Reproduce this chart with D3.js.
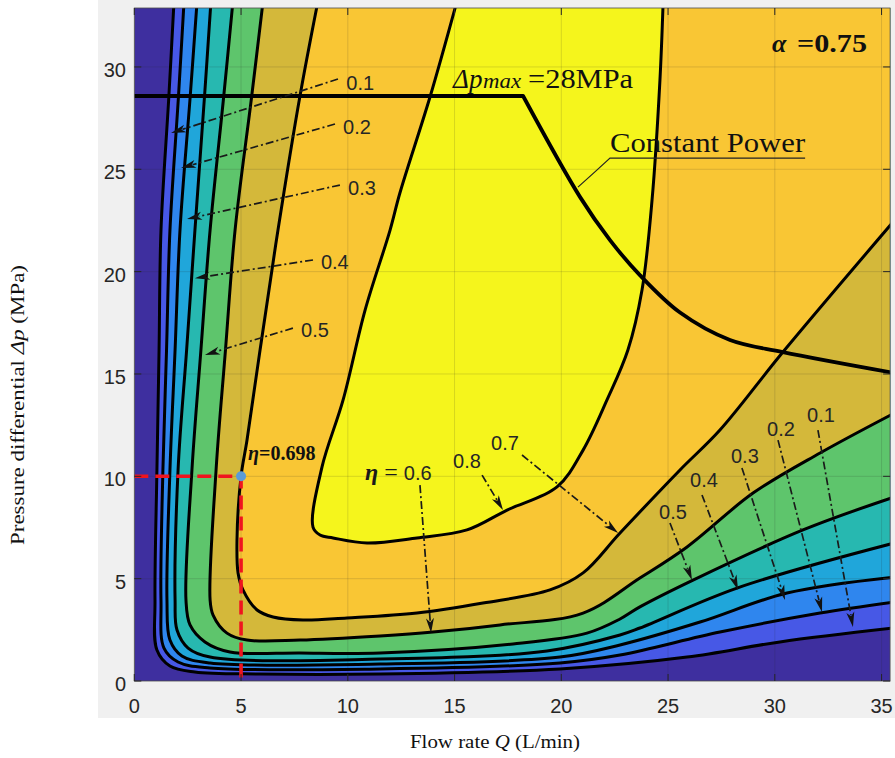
<!DOCTYPE html>
<html><head><meta charset="utf-8">
<script src="https://cdn.jsdelivr.net/npm/d3@7"></script>
<style>body{margin:0;background:#fff}svg{display:block}</style>
</head><body><svg id="c" width="895" height="758"></svg>
<script>
// ---------------- data ----------------
const xTicks = [0, 5, 10, 15, 20, 25, 30, 35];
const yTicks = [0, 5, 10, 15, 20, 25, 30];
const levels = [0.1, 0.2, 0.3, 0.4, 0.5, 0.6, 0.7, 0.8];
const levelColors = ["#3e2f9f", "#4758e6", "#2f86ee", "#20a6da", "#27b8b0", "#5ec56c", "#d4b83a", "#f9c634", "#f5f51c"];

// contour lines: [Q (L/min), Δp (MPa)]
const contour01 = [[1.86,33.2],[1.62,28.58],[1.25,22.03],[1.16,16.17],[1.06,10.31],[0.97,3.96],[1.06,1.51],[1.67,0.73],[2.84,0.44],[5.89,0.34],[11.51,0.34],[19.94,0.59],[25.89,1.17],[30.24,1.91],[35.6,2.59]];
const contour02 = [[2.33,33.2],[2.07,28.58],[1.67,22.03],[1.51,16.17],[1.34,10.31],[1.25,3.96],[1.39,1.61],[2.05,0.93],[3.55,0.64],[11.51,0.59],[19.94,0.88],[22.75,1.27],[27.43,2.39],[32.12,3.32],[35.6,3.86]];
const contour03 = [[2.94,33.2],[2.62,28.58],[2.14,22.03],[1.91,16.17],[1.67,10.31],[1.53,3.96],[1.67,2.0],[2.23,1.22],[3.55,0.88],[11.51,0.83],[19.94,1.17],[22.75,1.76],[26.5,2.88],[30.57,4.3],[35.6,5.08]];
const contour04 = [[3.59,33.2],[3.29,28.58],[2.84,22.03],[2.45,16.17],[2.05,10.31],[1.91,3.96],[2.0,2.49],[2.52,1.61],[3.55,1.17],[11.51,1.07],[19.33,1.47],[22.75,2.25],[23.68,2.59],[28.23,4.54],[35.6,6.74]];
const contour05 = [[4.62,33.2],[4.19,28.58],[3.55,22.03],[3.12,16.17],[2.7,10.31],[2.42,3.96],[2.61,2.74],[3.31,1.91],[4.48,1.42],[7.76,1.37],[11.51,1.37],[17.74,1.81],[21.2,2.34],[22.75,3.03],[23.68,3.62],[26.17,4.93],[31.32,7.38],[35.6,8.99]];
const contour06 = [[6.03,33.2],[5.5,28.58],[4.72,22.03],[4.27,16.17],[3.83,10.31],[3.55,3.96],[3.69,3.22],[4.34,2.34],[5.28,2.0],[7.76,2.0],[11.51,2.2],[13.99,2.39],[17.13,2.74],[21.02,3.32],[23.68,5.03],[25.89,6.55],[28.98,9.18],[32.12,11.14],[35.6,13.09]];
const contour07 = [[8.6,33.2],[7.76,28.58],[6.73,22.03],[5.89,16.17],[5.28,11.77],[5.0,10.0],[4.81,6.89],[4.86,5.28],[5.09,4.45],[5.75,3.47],[6.5,3.13],[7.9,2.98],[9.96,3.08],[13.24,3.32],[16.33,3.81],[19.47,4.45],[21.02,5.28],[22.75,7.23],[25.56,10.31],[27.43,12.26],[30.38,16.07],[35.6,22.5]];
const contour08 = [[15.11,33.2],[13.85,28.53],[12.44,23.84],[11.98,22.03],[10.81,18.12],[9.78,13.73],[8.79,10.45],[8.37,7.52],[8.7,7.13],[9.31,6.99],[10.9,6.74],[13.24,6.99],[15.58,7.38],[17.46,8.35],[19.8,9.48],[21.02,11.28],[22.14,13.73],[23.12,16.17],[23.78,19.1],[24.25,23.5],[24.62,29.36],[24.77,33.2]];
const contours = [contour01, contour02, contour03, contour04, contour05, contour06, contour07, contour08];

// Δp_max segment then constant-power curve
const maxPressureLine = [[0,28.58],[18.21,28.58]];
const constantPower = [[18.21,28.58],[20.88,23.64],[22.28,21.54],[23.68,19.83],[25.56,18.0],[27.9,16.66],[30.38,16.07],[35.6,15.05]];
const operatingPoint = {Q: 5, dp: 10, eta: 0.698};

// label annotations: text anchor point and arrow (from -> tip), data units
const leftLabels = [
  {t:"0.1", q:9.93, p:28.87, from:[9.54,29.41], to:[1.72,26.77]},
  {t:"0.2", q:9.78, p:26.72, from:[9.40,27.21], to:[2.19,25.06]},
  {t:"0.3", q:10.01, p:23.74, from:[9.63,24.23], to:[2.47,22.57]},
  {t:"0.4", q:8.74, p:20.13, from:[8.37,20.57], to:[2.84,19.68]},
  {t:"0.5", q:7.81, p:16.81, from:[7.43,17.24], to:[3.31,15.93]}
];
const rightLabels = [
  {t:"0.5", q:25.23, p:7.91, from:[25.09,7.72], to:[26.12,4.93]},
  {t:"0.4", q:26.68, p:9.48, from:[26.59,9.09], to:[28.28,4.45]},
  {t:"0.3", q:28.60, p:10.65, from:[28.46,10.41], to:[30.48,3.96]},
  {t:"0.2", q:30.29, p:11.97, from:[30.15,11.77], to:[32.21,3.37]},
  {t:"0.1", q:32.16, p:12.65, from:[32.02,12.26], to:[33.66,2.64]}
];
const midLabels = [
  {t:"0.8", q:15.58, p:10.41, from:[16.29,10.06], to:[17.27,8.35]},
  {t:"0.7", q:17.36, p:11.28, from:[18.16,11.04], to:[22.66,7.23]}
];
const eta06 = {q:10.81, p:9.82, from:[13.38,9.57], to:[13.90,2.34]};

// ---------------- drawing ----------------
const svg = d3.select("#c");
const X = d3.scaleLinear().domain([0, 35.4]).range([134.3, 890.1]);
const Y = d3.scaleLinear().domain([0, 32.88]).range([681, 8]);
const [x0, x1] = X.range(), [y0, y1] = Y.range();

svg.append("rect").attr("x", 98).attr("y", 0).attr("width", 797).attr("height", 718).attr("fill", "#f0f0f0");

svg.append("defs").append("clipPath").attr("id", "plotclip")
  .append("rect").attr("x", x0).attr("y", y1).attr("width", x1 - x0).attr("height", y0 - y1);

const plot = svg.append("g").attr("clip-path", "url(#plotclip)");
const line = d3.line().x(d => X(d[0])).y(d => Y(d[1]));
const smooth = d3.line().x(d => X(d[0])).y(d => Y(d[1])).curve(d3.curveCatmullRom.alpha(0.5));
const pt = d => X(d[0]) + "," + Y(d[1]);

plot.append("rect").attr("x", x0).attr("y", y1).attr("width", x1 - x0).attr("height", y0 - y1).attr("fill", levelColors[0]);

contours.forEach((c, i) => {
  let extra;
  if (i < 7) {
    const last = c[c.length - 1];
    extra = [[40, last[1]], [40, 40], [c[0][0], 40]];
  } else {
    extra = [[c[c.length - 1][0], 40], [c[0][0], 40]];
  }
  plot.append("path").attr("d", smooth(c) + extra.map(p => "L" + pt(p)).join("") + "Z").attr("fill", levelColors[i + 1]);
});

// grid
plot.selectAll(".gx").data(xTicks).enter().append("line")
  .attr("x1", d => X(d)).attr("x2", d => X(d)).attr("y1", y0).attr("y2", y1)
  .attr("stroke", "#262626").attr("stroke-opacity", 0.15).attr("stroke-width", 1);
plot.selectAll(".gy").data(yTicks).enter().append("line")
  .attr("y1", d => Y(d)).attr("y2", d => Y(d)).attr("x1", x0).attr("x2", x1)
  .attr("stroke", "#262626").attr("stroke-opacity", 0.15).attr("stroke-width", 1);

// contour lines
contours.forEach(c => {
  plot.append("path").attr("d", smooth(c)).attr("fill", "none")
    .attr("stroke", "#000").attr("stroke-width", 3).attr("stroke-linejoin", "round");
});

// Δp max + constant power
plot.append("path").attr("d", line(maxPressureLine) + smooth(constantPower).replace(/^M/, "L")).attr("fill", "none")
  .attr("stroke", "#000").attr("stroke-width", 3.8).attr("stroke-linejoin", "round");

// red dashed guide
plot.append("path").attr("d", line([[0, operatingPoint.dp], [operatingPoint.Q, operatingPoint.dp], [operatingPoint.Q, 0]]))
  .attr("fill", "none").attr("stroke", "#f0141e").attr("stroke-width", 3.6).attr("stroke-dasharray", "14,7");
plot.append("circle").attr("cx", X(operatingPoint.Q)).attr("cy", Y(operatingPoint.dp)).attr("r", 5)
  .attr("fill", "#5a9bd8");

// arrows
function arrow(from, to) {
  const ax = X(from[0]), ay = Y(from[1]), bx = X(to[0]), by = Y(to[1]);
  const L = Math.hypot(bx - ax, by - ay), ux = (bx - ax) / L, uy = (by - ay) / L;
  const len = 15, hw = 4;
  const baseX = bx - ux * len, baseY = by - uy * len;
  svg.append("line").attr("x1", ax).attr("y1", ay).attr("x2", baseX + ux * 3).attr("y2", baseY + uy * 3)
    .attr("stroke", "#1a1a1a").attr("stroke-width", 1.7).attr("stroke-dasharray", "8,3,2,3");
  const pts = [[bx, by], [baseX - uy * hw, baseY + ux * hw], [baseX + ux * 4, baseY + uy * 4], [baseX + uy * hw, baseY - ux * hw]];
  svg.append("path").attr("d", "M" + pts.map(p => p.join(",")).join("L") + "Z").attr("fill", "#111");
}

const numFont = "'Liberation Sans', Arial, Helvetica, sans-serif";
const serif = "'Liberation Serif', 'Times New Roman', Times, serif";

leftLabels.forEach(d => {
  arrow(d.from, d.to);
  svg.append("text").attr("x", X(d.q)).attr("y", Y(d.p)).text(d.t)
    .attr("font-family", numFont).attr("font-size", 20).attr("fill", "#262626");
});
rightLabels.concat(midLabels).forEach(d => {
  arrow(d.from, d.to);
  svg.append("text").attr("x", X(d.q)).attr("y", Y(d.p)).attr("text-anchor", "middle").text(d.t)
    .attr("font-family", numFont).attr("font-size", 20).attr("fill", "#262626");
});
arrow(eta06.from, eta06.to);
{
  const t = svg.append("text").attr("x", X(eta06.q)).attr("y", Y(eta06.p)).attr("fill", "#1a1a1a");
  t.append("tspan").text("η").attr("font-family", serif).attr("font-style", "italic").attr("font-weight", "bold").attr("font-size", 24);
  t.append("tspan").text(" = ").attr("font-family", serif).attr("font-size", 24);
  t.append("tspan").text("0.6").attr("font-family", numFont).attr("font-size", 20).attr("fill", "#262626");
}

// η=0.698
{
  const t = svg.append("text").attr("x", X(5.33)).attr("y", Y(10.8)).attr("font-family", serif)
    .attr("font-weight", "bold").attr("font-size", 20).attr("fill", "#111");
  t.append("tspan").text("η").attr("font-style", "italic");
  t.append("tspan").text("=" + operatingPoint.eta);
}

// Δp max label
{
  const bx = X(14.93), by = Y(28.97);
  svg.append("text").attr("x", bx).attr("y", by).attr("font-family", serif).attr("font-style", "italic")
    .attr("font-size", 27).attr("fill", "#111").text("Δp");
  svg.append("text").attr("x", bx + 30).attr("y", by).attr("font-family", serif).attr("font-style", "italic")
    .attr("font-size", 21).attr("fill", "#111").attr("textLength", 38).attr("lengthAdjust", "spacingAndGlyphs").text("max");
  svg.append("text").attr("x", bx + 75).attr("y", by).attr("font-family", serif)
    .attr("font-size", 27).attr("fill", "#111").attr("textLength", 105).attr("lengthAdjust", "spacingAndGlyphs").text("=28MPa");
}
// Constant Power label
svg.append("text").attr("x", X(22.28)).attr("y", Y(25.84)).attr("font-family", serif).attr("font-size", 27)
  .attr("fill", "#111").attr("textLength", X(31.42) - X(22.28)).attr("lengthAdjust", "spacingAndGlyphs").text("Constant Power");
svg.append("path").attr("d", line([[31.42, 25.55], [22.28, 25.55], [21.6, 24.9], [20.78, 24.13]]))
  .attr("fill", "none").attr("stroke", "#222").attr("stroke-width", 1.2);

// α label
svg.append("text").attr("x", X(29.87)).attr("y", Y(30.73)).attr("font-family", serif).attr("font-style", "italic")
  .attr("font-weight", "bold").attr("font-size", 26).attr("fill", "#111").text("α");
svg.append("text").attr("x", X(29.87) + 25).attr("y", Y(30.73)).attr("font-family", serif)
  .attr("font-weight", "bold").attr("font-size", 26).attr("fill", "#111")
  .attr("textLength", 70).attr("lengthAdjust", "spacingAndGlyphs").text("=0.75");

// axes box and ticks
svg.append("rect").attr("x", x0).attr("y", y1).attr("width", x1 - x0).attr("height", y0 - y1)
  .attr("fill", "none").attr("stroke", "#4d4d4d").attr("stroke-width", 0.8);
const tk = 7;
xTicks.forEach(v => {
  svg.append("line").attr("x1", X(v)).attr("x2", X(v)).attr("y1", y0).attr("y2", y0 - tk).attr("stroke", "#262626");
  svg.append("line").attr("x1", X(v)).attr("x2", X(v)).attr("y1", y1).attr("y2", y1 + tk).attr("stroke", "#262626");
  svg.append("text").attr("x", X(v)).attr("y", 713).attr("text-anchor", "middle").text(v)
    .attr("font-family", numFont).attr("font-size", 20).attr("fill", "#262626");
});
yTicks.forEach(v => {
  svg.append("line").attr("y1", Y(v)).attr("y2", Y(v)).attr("x1", x0).attr("x2", x0 + tk).attr("stroke", "#262626");
  svg.append("line").attr("y1", Y(v)).attr("y2", Y(v)).attr("x1", x1).attr("x2", x1 - tk).attr("stroke", "#262626");
  svg.append("text").attr("x", 126).attr("y", Y(v) + 10).attr("text-anchor", "end").text(v)
    .attr("font-family", numFont).attr("font-size", 20).attr("fill", "#262626");
});

// axis titles
{
  const t = svg.append("text").attr("transform", "translate(24,405) rotate(-90)").attr("text-anchor", "middle")
    .attr("font-family", serif).attr("font-size", 18).attr("fill", "#111")
    .attr("textLength", 280).attr("lengthAdjust", "spacingAndGlyphs");
  t.append("tspan").text("Pressure differential ");
  t.append("tspan").text("Δp").attr("font-style", "italic");
  t.append("tspan").text(" (MPa)");
}
{
  const t = svg.append("text").attr("x", 495).attr("y", 748).attr("text-anchor", "middle")
    .attr("font-family", serif).attr("font-size", 19).attr("fill", "#111")
    .attr("textLength", 170).attr("lengthAdjust", "spacingAndGlyphs");
  t.append("tspan").text("Flow rate ");
  t.append("tspan").text("Q").attr("font-style", "italic");
  t.append("tspan").text(" (L/min)");
}
</script></body></html>
